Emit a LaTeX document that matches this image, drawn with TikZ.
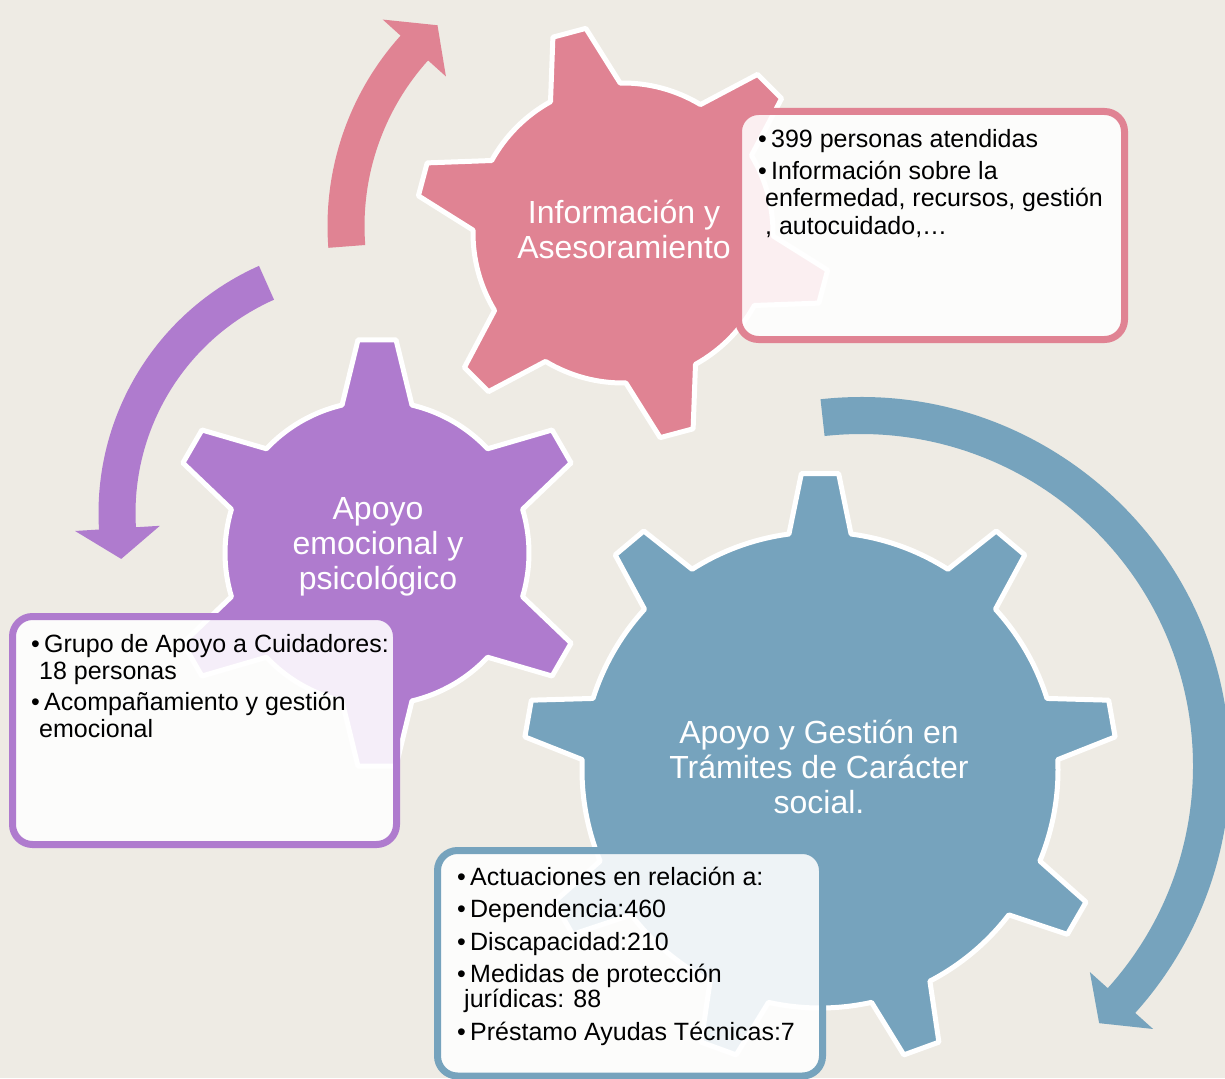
\documentclass[tikz,border=0pt]{standalone}
\usepackage{fontspec}
\setmainfont{Liberation Sans}
\definecolor{bg}{HTML}{EEEBE4}
\definecolor{gpink}{HTML}{E08393}
\definecolor{gpurple}{HTML}{AF7BCE}
\definecolor{gblue}{HTML}{76A3BD}
\newcommand{\bul}{\makebox[13pt][l]{•}}
\begin{document}
\begin{tikzpicture}[x=1pt,y=1pt,
  gearstyle/.style={draw=white, line width=5pt, line join=round},
  arrowband/.style={draw=none},
  infobox/.style={draw=#1, line width=7pt, rounded corners=20pt, fill=white, fill opacity=0.88},
  boxtext/.style={anchor=base west, inner sep=0pt, font=\fontsize{25}{27}\selectfont, text=black},
  geartext/.style={anchor=base, inner sep=0pt, font=\fontsize{32}{35}\selectfont, text=white}]
\useasboundingbox (0,0) rectangle (1225,-1078);
\fill[bg] (0,0) rectangle (1225,-1078);
\clip (0,0) rectangle (1225,-1078);

% ---------- arrows ----------
% pink arrow
\begin{scope}[shift={(612,-226)}]
\fill[gpink] (184.4:284.5) arc[start angle=184.4, end angle=138, radius=284.5]
  -- (138:308.5) -- (131:266) -- (138:223.5) -- (138:247.5)
  arc[start angle=138, end angle=184.4, radius=247.5] -- cycle;
\end{scope}
% purple arrow
\begin{scope}[shift={(369,-513)}]
\fill[gpurple] (114:270.5) arc[start angle=114, end angle=183.5, radius=270.5]
  -- (183.5:294.5) -- (190.5:252) -- (183.5:209.5) -- (183.5:233.5)
  arc[start angle=183.5, end angle=114, radius=233.5] -- cycle;
\end{scope}
% blue arrow
\begin{scope}[shift={(861,-766)}]
\fill[gblue] (96.3:369) arc[start angle=96.3, end angle=-42, radius=369]
  -- (-42:393) -- (-47.2:350.5) -- (-42:308) -- (-42:332)
  arc[start angle=-42, end angle=96.3, radius=332] -- cycle;
\end{scope}

% ---------- gears ----------
\begin{scope}[shift={(623,-233)}]
\draw[gearstyle, fill=gpink] ({45-13.9}:150)
  \foreach \k in {0,...,5}{
    -- ({45+60*\k-4.7}:208) -- ({45+60*\k+4.7}:208) -- ({45+60*\k+13.9}:150)
    arc[start angle={45+60*\k+13.9}, end angle={105+60*\k-13.9}, radius=150]
  } -- cycle;
\end{scope}
\begin{scope}[shift={(377,-553)}]
\draw[gearstyle, fill=gpurple] ({30-13.3}:152)
  \foreach \k in {0,...,5}{
    -- ({30+60*\k-5.1}:214) -- ({30+60*\k+5.1}:214) -- ({30+60*\k+13.3}:152)
    arc[start angle={30+60*\k+13.3}, end angle={90+60*\k-13.3}, radius=152]
  } -- cycle;
\end{scope}
\begin{scope}[shift={(820,-770)}]
\draw[gearstyle, fill=gblue] ({90-7.5}:238)
  \foreach \k in {0,...,8}{
    -- ({90+40*\k-3.6}:297) -- ({90+40*\k+3.6}:297) -- ({90+40*\k+7.5}:238)
    arc[start angle={90+40*\k+7.5}, end angle={130+40*\k-7.5}, radius=238]
  } -- cycle;
\end{scope}

% gear labels
\node[geartext] (g1a) at (624,-223) {Información y};
\node[geartext] (g1b) at (624,-258) {Asesoramiento};
\node[geartext] (g2a) at (378,-519) {Apoyo};
\node[geartext] (g2b) at (378,-554) {emocional y};
\node[geartext] (g2c) at (378,-589) {psicológico};
\node[geartext] (g3a) at (819,-743) {Apoyo y Gestión en};
\node[geartext] (g3b) at (819,-778) {Trámites de Carácter};
\node[geartext] (g3c) at (819,-813) {social.};

% ---------- boxes ----------
\draw[infobox=gpink] (738.5,-111.5) rectangle (1124.5,-339.5);
\draw[infobox=gpurple] (12.5,-616.5) rectangle (396.5,-844.5);
\draw[infobox=gblue] (437.5,-850.5) rectangle (822.5,-1076);

% pink box text
\node[boxtext] (t1) at (758,-148) {\bul 399 personas atendidas};
\node[boxtext] (t2) at (758,-180) {\bul Información sobre la};
\node[boxtext] (t3) at (765,-207) {enfermedad, recursos, gestión};
\node[boxtext] (t4) at (765,-234) {, autocuidado,…};
% purple box text
\node[boxtext] (u1) at (31,-652) {\bul Grupo de Apoyo a Cuidadores:};
\node[boxtext] (u2) at (39,-679) {18 personas};
\node[boxtext] (u3) at (31,-710) {\bul Acompañamiento y gestión};
\node[boxtext] (u4) at (39,-737) {emocional};
% blue box text
\node[boxtext] (v1) at (457,-885) {\bul Actuaciones en relación a:};
\node[boxtext] (v2) at (457,-917) {\bul Dependencia:460};
\node[boxtext] (v3) at (457,-950) {\bul Discapacidad:210};
\node[boxtext] (v4) at (457,-982) {\bul Medidas de protección};
\node[boxtext] (v5) at (464,-1007) {jurídicas: 88};
\node[boxtext] (v6) at (457,-1040) {\bul Préstamo Ayudas Técnicas:7};
\end{tikzpicture}
\end{document}
